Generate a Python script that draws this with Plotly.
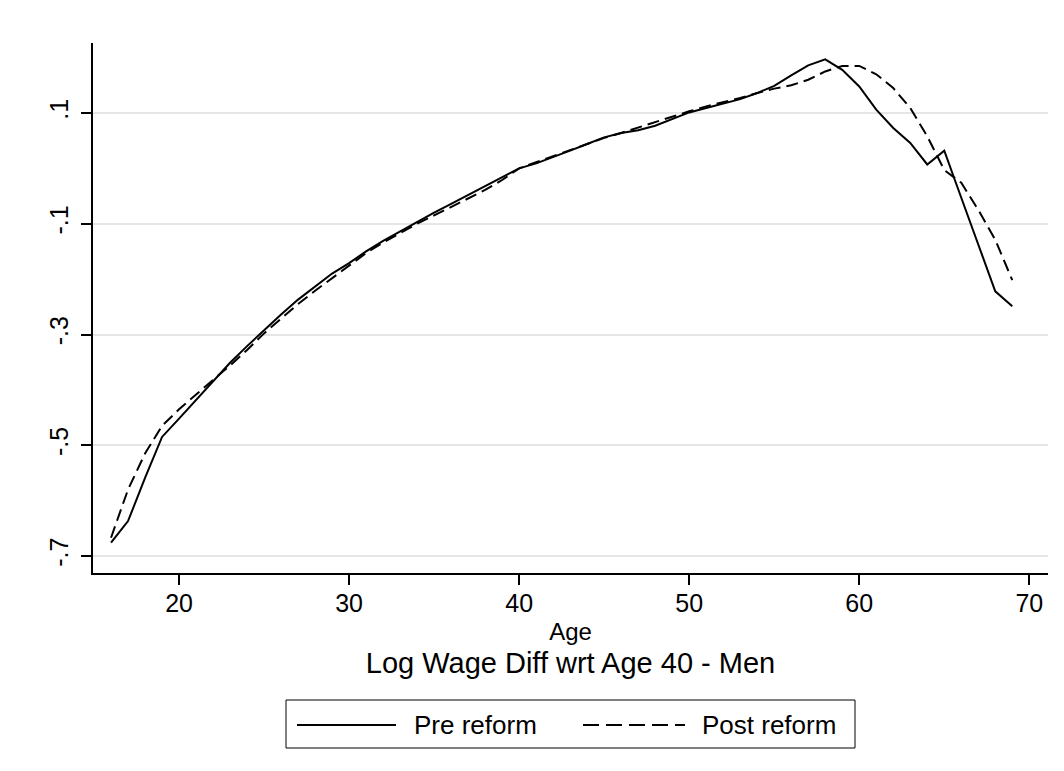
import plotly.graph_objects as go

ages = list(range(16, 70))

pre_reform = [
    -0.676, -0.637, -0.559, -0.485, -0.452, -0.418, -0.385, -0.351, -0.321, -0.292,
    -0.264, -0.237, -0.213, -0.190, -0.171, -0.150, -0.131, -0.114, -0.096, -0.080,
    -0.064, -0.048, -0.031, -0.015, 0.000, 0.009, 0.020, 0.032, 0.044, 0.056,
    0.064, 0.069, 0.077, 0.089, 0.101, 0.109, 0.117, 0.125, 0.136, 0.149,
    0.168, 0.186, 0.197, 0.178, 0.148, 0.106, 0.073, 0.046, 0.007, 0.032,
    -0.053, -0.138, -0.222, -0.249,
]

post_reform = [
    -0.667, -0.580, -0.515, -0.465, -0.435, -0.408, -0.382, -0.356, -0.328, -0.298,
    -0.271, -0.245, -0.221, -0.198, -0.176, -0.153, -0.134, -0.117, -0.100, -0.085,
    -0.070, -0.055, -0.039, -0.021, 0.000, 0.011, 0.022, 0.034, 0.045, 0.055,
    0.064, 0.074, 0.083, 0.093, 0.103, 0.112, 0.119, 0.127, 0.136, 0.144,
    0.150, 0.160, 0.175, 0.185, 0.185, 0.170, 0.145, 0.109, 0.058, -0.003,
    -0.026, -0.075, -0.129, -0.202,
]

x_ticks = [20, 30, 40, 50, 60, 70]
y_ticks = [0.1, -0.1, -0.3, -0.5, -0.7]
y_tick_labels = [".1", "-.1", "-.3", "-.5", "-.7"]

series_names = ["Pre reform", "Post reform"]

FONT = "Liberation Sans, Arial, Helvetica, sans-serif"
W, H = 1064, 771
L, R, T, B = 85, 24, 35, 206
PW, PH = W - L - R, H - T - B


def px(p):
    return (p - L) / PW


def py(p):
    return (H - B - p) / PH


fig = go.Figure()
fig.add_trace(go.Scatter(
    x=ages, y=pre_reform, mode="lines", name=series_names[0],
    line=dict(color="black", width=2), showlegend=False,
))
fig.add_trace(go.Scatter(
    x=ages, y=post_reform, mode="lines", name=series_names[1],
    line=dict(color="black", width=2, dash="12px,6px"), showlegend=False,
))

# Legend drawn as a box with line samples
shapes = [
    dict(type="rect", xref="paper", yref="paper",
         x0=px(278), x1=px(847), y0=py(740), y1=py(692),
         line=dict(color="black", width=1), fillcolor="white", layer="above"),
    dict(type="line", xref="paper", yref="paper",
         x0=px(289), x1=px(388), y0=py(717), y1=py(717),
         line=dict(color="black", width=2)),
    dict(type="line", xref="paper", yref="paper",
         x0=px(575), x1=px(677), y0=py(717), y1=py(717),
         line=dict(color="black", width=2, dash="16px,7px")),
]
annotations = [
    dict(text=series_names[0], xref="paper", yref="paper", x=px(404), y=py(717),
         xanchor="left", yanchor="middle", showarrow=False,
         font=dict(family=FONT, size=26, color="black")),
    dict(text=series_names[1], xref="paper", yref="paper", x=px(692), y=py(717),
         xanchor="left", yanchor="middle", showarrow=False,
         font=dict(family=FONT, size=26, color="black")),
]

fig.update_layout(
    width=W, height=H,
    margin=dict(l=L, r=R, t=T, b=B),
    paper_bgcolor="white", plot_bgcolor="white",
    font=dict(family=FONT, color="black"),
    title=dict(text="Log Wage Diff wrt Age 40 - Men", x=0.5, xref="paper",
               xanchor="center", y=1 - 655 / H, yref="container", yanchor="middle",
               font=dict(family=FONT, size=29, color="black")),
    shapes=shapes,
    annotations=annotations,
    showlegend=False,
)

fig.update_xaxes(
    range=[14.94, 71.1], tickvals=x_ticks, ticks="outside", ticklen=10,
    tickwidth=1.5, tickcolor="black", showline=True, linecolor="black", linewidth=1.5,
    showgrid=False, zeroline=False, tickfont=dict(size=25, family=FONT, color="black"),
    ticklabelstandoff=-3,
    title=dict(text="Age", font=dict(size=24, family=FONT, color="black"), standoff=7),
)
fig.update_yaxes(
    range=[-0.7307, 0.2264], tickvals=y_ticks, ticktext=y_tick_labels,
    tickangle=-90, ticks="outside", ticklen=10, tickwidth=1.5, tickcolor="black",
    showline=True, linecolor="black", linewidth=1.5,
    showgrid=True, gridcolor="#e6e6e6", gridwidth=2, zeroline=False,
    ticklabelstandoff=3,
    tickfont=dict(size=25, family=FONT, color="black"),
)

fig.write_html("out.html")
